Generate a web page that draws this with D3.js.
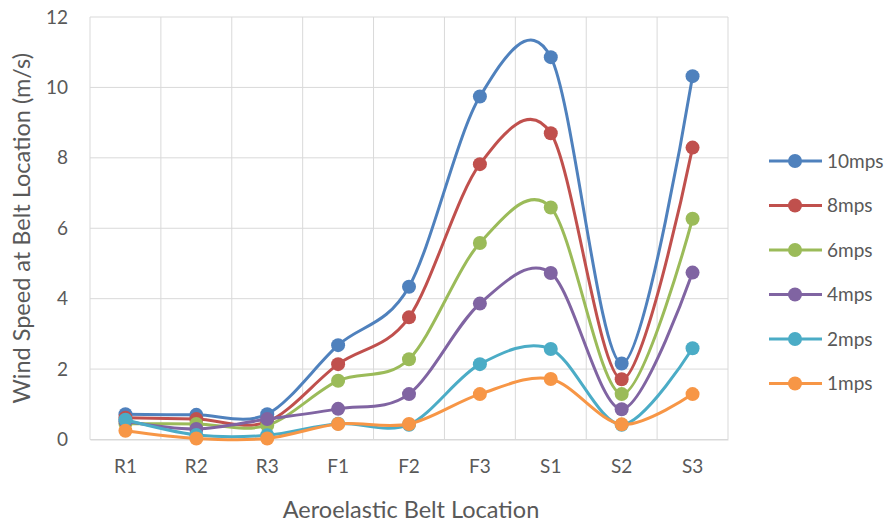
<!DOCTYPE html>
<html><head><meta charset="utf-8">
<script src="https://cdn.jsdelivr.net/npm/d3@7"></script>
<style>body{margin:0;background:#fff}svg{display:block}</style>
</head><body>
<svg id="c" width="896" height="528"></svg>
<script>
const categories = ["R1","R2","R3","F1","F2","F3","S1","S2","S3"];
const seriesNames = ["10mps","8mps","6mps","4mps","2mps","1mps"];
const s10 = [0.72,0.70,0.72,2.68,4.34,9.74,10.86,2.16,10.32];
const s8  = [0.62,0.58,0.50,2.14,3.47,7.82,8.70,1.71,8.29];
const s6  = [0.45,0.44,0.40,1.67,2.28,5.58,6.59,1.29,6.27];
const s4  = [0.52,0.30,0.58,0.87,1.29,3.86,4.73,0.86,4.74];
const s2  = [0.56,0.13,0.12,0.45,0.42,2.14,2.57,0.42,2.59];
const s1  = [0.25,0.03,0.03,0.44,0.44,1.29,1.72,0.43,1.29];
const yTicks = [0,2,4,6,8,10,12];
const colors = ["#4F81BD","#C0504D","#9BBB59","#8064A2","#4BACC6","#F79646"];
const seriesValues = [s10,s8,s6,s4,s2,s1];

const svg = d3.select("#c");
const font = "Lato, 'Open Sans', sans-serif";
const L=90, R=728, T=17, B=439.5;
const x = d3.scaleBand().domain(categories).range([L,R]);
const y = d3.scaleLinear().domain([0,12]).range([B,T]);

// gridlines
const g = svg.append("g");
g.selectAll("line.h").data(yTicks).join("line")
  .attr("x1",L).attr("x2",R).attr("y1",d=>y(d)).attr("y2",d=>y(d))
  .attr("stroke","#D9D9D9").attr("stroke-width",1);
const bounds = categories.map(c=>x(c)).concat([R]);
g.selectAll("line.v").data(bounds).join("line")
  .attr("x1",d=>d).attr("x2",d=>d).attr("y1",T).attr("y2",B)
  .attr("stroke","#D9D9D9").attr("stroke-width",1);

// axes
const yAxis = d3.axisLeft(y).tickValues(yTicks).tickSize(0).tickPadding(22);
const ya = svg.append("g").attr("transform",`translate(${L},0)`).call(yAxis);
ya.select(".domain").remove();
ya.selectAll("text").attr("font-family",font).attr("font-size",19).attr("fill","#595959");

const xAxis = d3.axisBottom(x).tickSize(0).tickPadding(20);
const xa = svg.append("g").attr("transform",`translate(0,${B})`).call(xAxis);
xa.select(".domain").attr("stroke","#D9D9D9");
xa.selectAll("text").attr("font-family",font).attr("font-size",19).attr("fill","#595959");

// axis titles
svg.append("text").attr("x",(L+R)/2 + 2).attr("y",518).attr("text-anchor","middle")
  .attr("font-family",font).attr("font-size",23.5).attr("fill","#595959")
  .text("Aeroelastic Belt Location");
svg.append("text").attr("transform",`translate(30,${(T+B)/2}) rotate(-90)`)
  .attr("text-anchor","middle").attr("font-family",font).attr("font-size",23.5).attr("fill","#595959")
  .text("Wind Speed at Belt Location (m/s)");

// lines
const line = d3.line().x((d,i)=>x(categories[i])+x.bandwidth()/2).y(d=>y(d))
  .curve(d3.curveCardinal.tension(0.05));
seriesValues.forEach((vals,si)=>{
  svg.append("path").attr("d",line(vals)).attr("fill","none")
    .attr("stroke",colors[si]).attr("stroke-width",3).attr("stroke-linejoin","round");
  svg.append("g").selectAll("circle").data(vals).join("circle")
    .attr("cx",(d,i)=>x(categories[i])+x.bandwidth()/2).attr("cy",d=>y(d))
    .attr("r",7).attr("fill",colors[si]);
});

// legend
const lg = svg.append("g");
seriesNames.forEach((n,i)=>{
  const yy = 161 + i*44.5;
  lg.append("line").attr("x1",769).attr("x2",822).attr("y1",yy).attr("y2",yy)
    .attr("stroke",colors[i]).attr("stroke-width",3);
  lg.append("circle").attr("cx",795).attr("cy",yy).attr("r",7).attr("fill",colors[i]);
  lg.append("text").attr("x",827).attr("y",yy).attr("dy","0.35em")
    .attr("font-family",font).attr("font-size",19).attr("fill","#595959").text(n);
});
</script>
</body></html>
